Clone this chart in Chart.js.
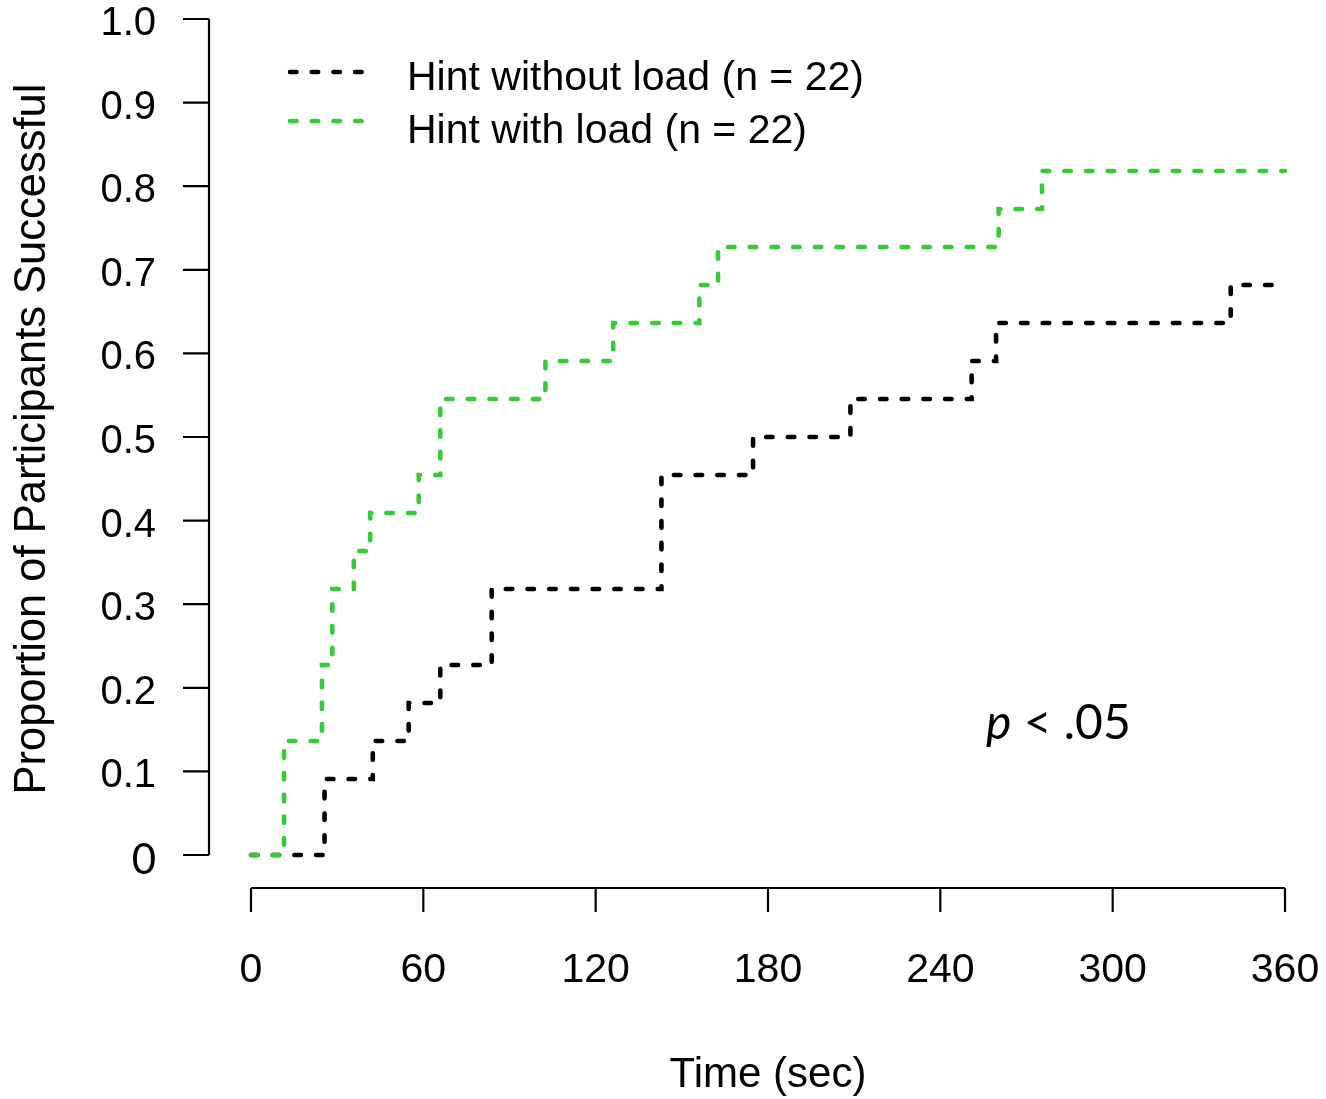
<!DOCTYPE html>
<html>
<head>
<meta charset="utf-8">
<title>Proportion successful over time</title>
<script src="https://cdn.jsdelivr.net/npm/chart.js@4.4.1/dist/chart.umd.min.js"></script>
<style>
  body { margin: 0; background: #fff; }
  #wrap { width: 1326px; height: 1099px; }
</style>
</head>
<body>
<div id="wrap"><canvas id="successChart" width="1326" height="1099"></canvas></div>
<script>
const groupSize = 22;

// time (sec) at which each cumulative number of successes is reached
const noLoadTimes  = [0, 25.6, 42.4, 54.9, 65.9, 83.8, 142.9, 174.8, 208.7, 250.9, 259.4, 341.1, 360];
const noLoadCounts = [0, 2, 3, 4, 5, 7, 10, 11, 12, 13, 14, 15, 15];
const loadTimes  = [0, 11.5, 24.7, 28.3, 35.8, 41.5, 58.4, 65.9, 102.5, 126.1, 156.1, 162.6, 260.3, 275.4, 360];
const loadCounts = [0, 3, 5, 7, 8, 9, 10, 12, 13, 14, 15, 16, 17, 18, 18];

const seriesLabels = ['Hint without load (n = 22)', 'Hint with load (n = 22)'];
const seriesColors = ['#000000', '#33cc33'];

const xTicks = [0, 60, 120, 180, 240, 300, 360];
const yTicks = [0, 0.1, 0.2, 0.3, 0.4, 0.5, 0.6, 0.7, 0.8, 0.9, 1.0];
const yTickLabels = ['0', '0.1', '0.2', '0.3', '0.4', '0.5', '0.6', '0.7', '0.8', '0.9', '1.0'];

const dash = [6.5, 15.2];
const sansFont = "'Liberation Sans', Arial, sans-serif";

function toPoints(times, counts){
    return times.map((t, i) => ({ x: t, y: counts[i] / groupSize }));
}

// axes, legend and the annotation are drawn by hand, base-graphics style
const rAxes = {
    id: 'rAxes',
    afterDraw(chart){
        const ctx = chart.ctx;
        const xs = chart.scales.x, ys = chart.scales.y;
        const axisX = 209, axisY = 888;
        ctx.save();
        ctx.strokeStyle = '#000';
        ctx.fillStyle = '#000';
        ctx.lineWidth = 2.2;
        ctx.lineCap = 'butt';

        // y axis
        ctx.beginPath();
        ctx.moveTo(axisX, ys.getPixelForValue(1));
        ctx.lineTo(axisX, ys.getPixelForValue(0));
        yTicks.forEach(v => {
            const py = ys.getPixelForValue(v);
            ctx.moveTo(183, py);
            ctx.lineTo(axisX, py);
        });
        ctx.stroke();

        ctx.textAlign = 'right';
        ctx.textBaseline = 'middle';
        yTicks.forEach((v, i) => {
            const py = ys.getPixelForValue(v);
            ctx.font = i === 0 ? "42px Lato, sans-serif" : "40px " + sansFont;
            ctx.fillText(yTickLabels[i], 156, py + 5);
        });

        // x axis
        ctx.beginPath();
        ctx.moveTo(xs.getPixelForValue(0), axisY);
        ctx.lineTo(xs.getPixelForValue(360), axisY);
        xTicks.forEach(v => {
            const px = xs.getPixelForValue(v);
            ctx.moveTo(px, axisY);
            ctx.lineTo(px, 912);
        });
        ctx.stroke();

        ctx.textAlign = 'center';
        ctx.font = "41px " + sansFont;
        xTicks.forEach(v => {
            ctx.fillText(String(v), xs.getPixelForValue(v), 971);
        });

        // axis titles
        ctx.font = "42px " + sansFont;
        ctx.fillText('Time (sec)', (xs.left + xs.right) / 2, 1075);
        ctx.save();
        ctx.translate(33, 439);
        ctx.rotate(-Math.PI / 2);
        ctx.font = "43.5px " + sansFont;
        ctx.fillText('Proportion of Participants Successful', 0, 0);
        ctx.restore();

        // legend
        ctx.lineWidth = 4.6;
        ctx.lineCap = 'round';
        ctx.setLineDash(dash);
        const legendRows = [72, 121];
        seriesLabels.forEach((label, i) => {
            ctx.strokeStyle = seriesColors[i];
            ctx.beginPath();
            ctx.moveTo(290, legendRows[i]);
            ctx.lineTo(365, legendRows[i]);
            ctx.stroke();
        });
        ctx.setLineDash([]);
        ctx.textAlign = 'left';
        ctx.textBaseline = 'alphabetic';
        ctx.font = "41px " + sansFont;
        ctx.fillText(seriesLabels[0], 407, 90);
        ctx.fillText(seriesLabels[1], 407, 143);

        // significance note
        ctx.font = "italic 48px Lato, sans-serif";
        ctx.fillText('p', 986, 739);
        const pw = ctx.measureText('p').width;
        ctx.font = "48px Lato, sans-serif";
        ctx.fillText(' < .05', 986 + pw, 739);

        ctx.restore();
    }
};

const chart = new Chart(document.getElementById('successChart'), {
    type: 'line',
    data: {
        datasets: [{
            label: seriesLabels[0],
            data: toPoints(noLoadTimes, noLoadCounts),
            borderColor: seriesColors[0],
            order: 1
        }, {
            label: seriesLabels[1],
            data: toPoints(loadTimes, loadCounts),
            borderColor: seriesColors[1],
            order: 0
        }]
    },
    options: {
        responsive: false,
        animation: false,
        layout: { padding: { left: 251, right: 41, top: 19, bottom: 244 } },
        elements: {
            line: {
                stepped: 'before',
                borderWidth: 4.6,
                borderDash: dash,
                borderCapStyle: 'round',
                fill: false
            },
            point: { radius: 0, hoverRadius: 0 }
        },
        datasets: { line: { clip: false } },
        plugins: {
            legend: { display: false },
            tooltip: { enabled: false }
        },
        scales: {
            x: { type: 'linear', min: 0, max: 360, display: false },
            y: { type: 'linear', min: 0, max: 1, display: false }
        }
    },
    plugins: [rAxes]
});
</script>
</body>
</html>
